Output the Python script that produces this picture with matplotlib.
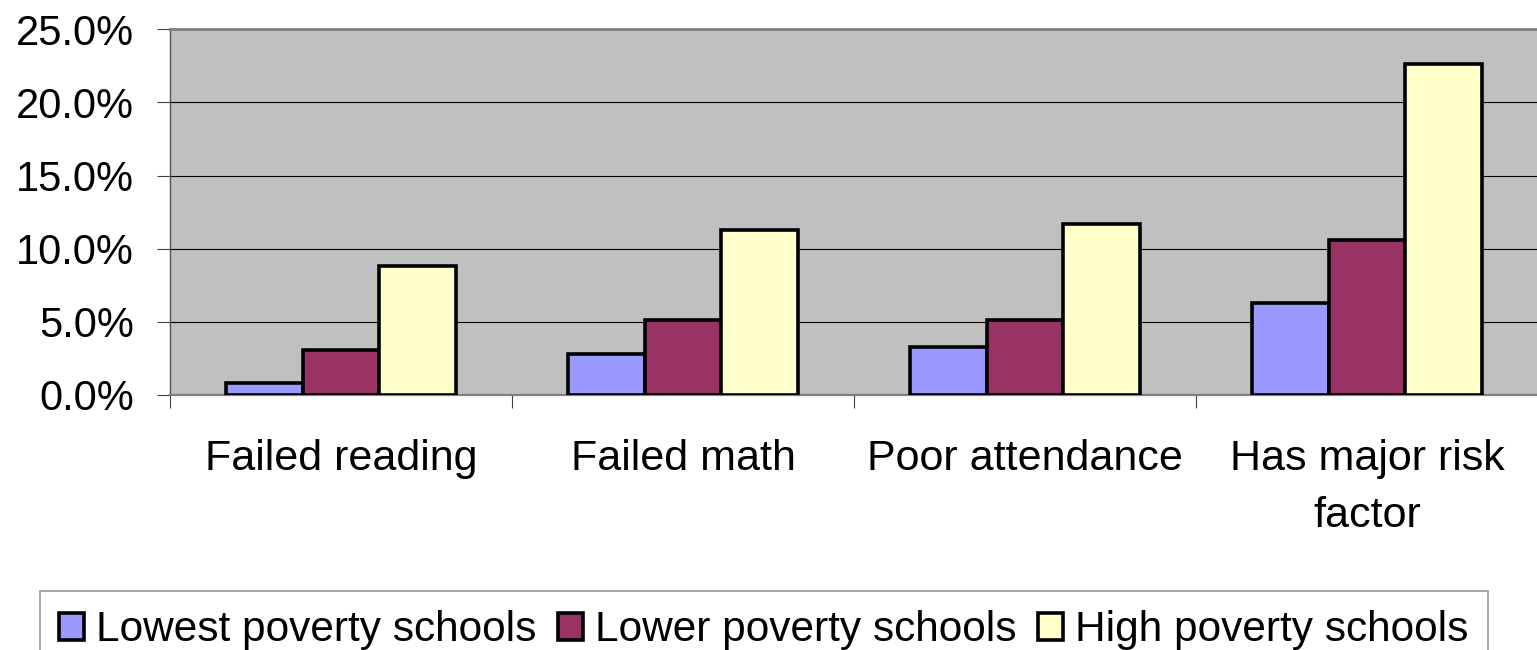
import numpy as np
import matplotlib
matplotlib.use("Agg")
import matplotlib.pyplot as plt
from matplotlib.ticker import FuncFormatter

categories = ["Failed reading", "Failed math", "Poor attendance", "Has major risk\nfactor"]
series_names = ["Lowest poverty schools", "Lower poverty schools", "High poverty schools"]
lowest = [0.8, 2.8, 3.3, 6.3]
lower = [3.1, 5.15, 5.1, 10.6]
high = [8.8, 11.3, 11.7, 22.6]
y_ticks = [0, 5, 10, 15, 20, 25]

colors = ["#9999FF", "#993366", "#FFFFCC"]

fontsize = 30
plt.rcParams.update({"font.family": "Liberation Sans", "font.size": fontsize})

W, H = 1537, 650
fig = plt.figure(figsize=(W / 100, H / 100), dpi=100)
ax = fig.add_axes([170 / W, 1 - 395 / H, (1538 - 170) / W, (395 - 29.3) / H])
ax.set_facecolor("#C0C0C0")

x = np.arange(len(categories))
width = 0.225
for i, (vals, name) in enumerate(zip([lowest, lower, high], series_names)):
    ax.bar(x + (i - 1) * width, vals, width, color=colors[i], edgecolor="black",
           linewidth=2.6, label=name, zorder=3)

ax.set_xlim(-0.5, len(categories) - 0.5)
ax.set_ylim(0, 25)
ax.set_yticks(y_ticks)
ax.yaxis.set_major_formatter(FuncFormatter(lambda v, _: f"{v:.1f}%"))
ax.tick_params(axis="y", direction="out", length=9.5, width=0.8, pad=16.5,
               labelsize=fontsize, color="#404040")

# category labels at centres, tick marks on the boundaries
ax.set_xticks(x)
ax.set_xticklabels(categories, linespacing=1.52)
ax.set_xticks(np.arange(len(categories) + 1) - 0.5, minor=True)
ax.tick_params(axis="x", which="major", length=0, pad=32, labelsize=31)
ax.tick_params(axis="x", which="minor", direction="out", length=9.5, width=0.8,
               color="#404040")

ax.grid(axis="y", color="black", linewidth=0.8, zorder=1)
ax.set_axisbelow(True)

ax.spines["top"].set_color("#808080")
ax.spines["top"].set_linewidth(2.0)
ax.spines["bottom"].set_color("#808080")
ax.spines["bottom"].set_linewidth(1.6)
ax.spines["left"].set_color("#505050")
ax.spines["left"].set_linewidth(1.0)
ax.spines["right"].set_visible(False)

leg = fig.legend(loc="upper left", bbox_to_anchor=(40 / W, 1 - 591 / H), ncol=3,
                 frameon=True, fancybox=False, edgecolor="#808080",
                 handlelength=0.6, handleheight=0.6, handletextpad=0.28,
                 columnspacing=0.5, borderpad=0.45, borderaxespad=0,
                 fontsize=30.5)
leg.get_frame().set_linewidth(1.2)

fig.savefig("out.png", dpi=100)
